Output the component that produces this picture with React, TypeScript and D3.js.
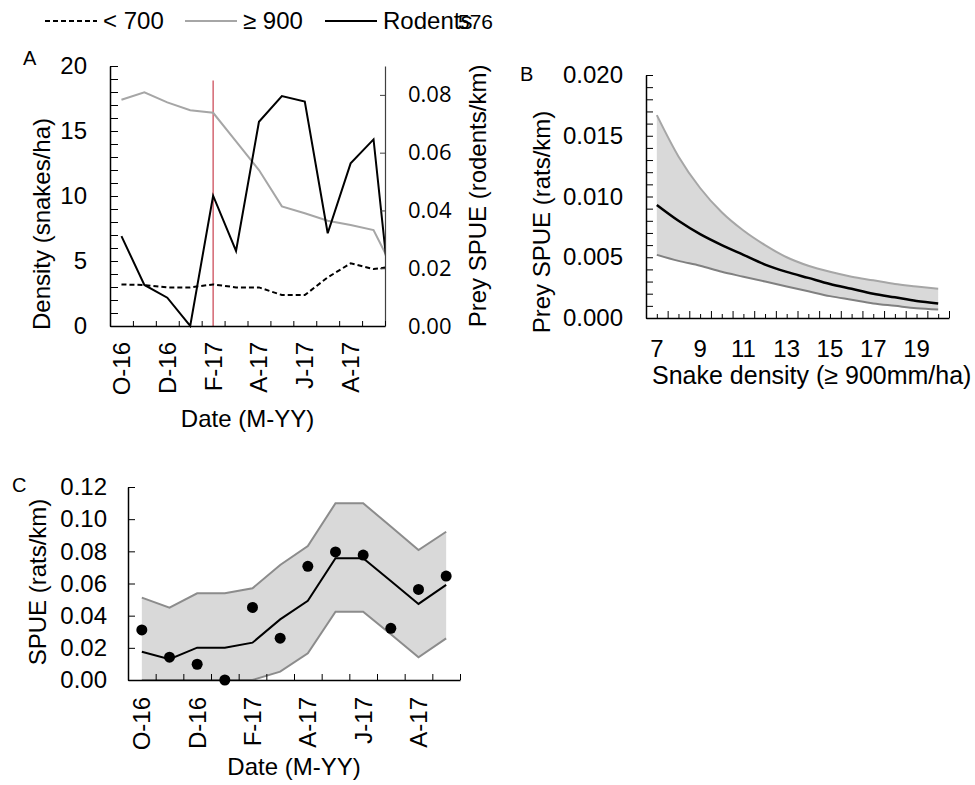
import React, { useEffect, useRef } from "react";
import * as d3 from "d3";

// panel A / C: monthly surveys (13th point runs past the axis end and gets clipped)
const monthLabels = ["O-16", "N-16", "D-16", "J-17", "F-17", "M-17", "A-17", "M-17", "J-17", "J-17", "A-17", "S-17", "O-17"];
const under700 = [3.2, 3.15, 2.97, 2.97, 3.2, 2.97, 2.97, 2.38, 2.38, 3.74, 4.82, 4.38, 4.6];
const over900 = [17.4, 17.97, 17.2, 16.6, 16.4, 14.2, 12.0, 9.2, 8.67, 8.1, 7.77, 7.38, 3.9];
const rodents = [0.0311, 0.0142, 0.0098, 0.0, 0.0451, 0.026, 0.0707, 0.0796, 0.0777, 0.0321, 0.0563, 0.0646, -0.01];
const treatmentMonth = 4; // F-17
const treatmentTop = 0.085;

// panel B: prey SPUE vs snake density
const densityB = [7, 8, 9, 10, 11, 12, 13, 14, 15, 16, 17, 18, 19, 20];
const meanB = [0.0093, 0.008, 0.0069, 0.006, 0.0052, 0.0044, 0.0038, 0.0033, 0.0028, 0.0024, 0.002, 0.0017, 0.0014, 0.0012];
const upperB = [0.0167, 0.0133, 0.0107, 0.0087, 0.0072, 0.006, 0.005, 0.0043, 0.0038, 0.0034, 0.0031, 0.0028, 0.0026, 0.0024];
const lowerB = [0.0052, 0.0047, 0.0043, 0.0038, 0.0034, 0.003, 0.0026, 0.0022, 0.0018, 0.0015, 0.0012, 0.001, 0.0008, 0.0007];
const xLabelsB = [7, 9, 11, 13, 15, 17, 19];

// panel C: model fit for monthly SPUE (dots = rodents series)
const fitC = [0.0176, 0.0129, 0.0201, 0.0201, 0.0232, 0.0377, 0.0493, 0.0757, 0.0757, 0.0615, 0.0473, 0.0591];
const upperC = [0.0512, 0.045, 0.0539, 0.0539, 0.057, 0.0715, 0.0833, 0.1099, 0.1099, 0.0954, 0.0808, 0.0922];
const lowerC = [0, 0, 0, 0, 0, 0.0052, 0.0166, 0.0425, 0.0425, 0.0284, 0.0141, 0.0259];

const FONT = "'Liberation Sans', Arial, sans-serif";

const App = () => {
  const ref = useRef(null);

  useEffect(() => {
    const svg = d3.select(ref.current);
    svg.selectAll("*").remove();

    const styleAxis = (g, color = "#000", width = 1.5) => {
      g.attr("font-family", FONT).attr("font-size", 24);
      g.select(".domain").attr("stroke", color).attr("stroke-width", width);
      g.selectAll(".tick line").attr("stroke", color).attr("stroke-width", 1);
      g.selectAll(".tick text").attr("fill", "#000");
    };

    const text = (x, y, s, size = 24, anchor = "start", rot = false) => {
      const t = svg
        .append("text")
        .attr("font-family", FONT)
        .attr("font-size", size)
        .attr("text-anchor", anchor)
        .text(s);
      if (rot) t.attr("transform", `translate(${x},${y}) rotate(-90)`).attr("dy", "0.35em");
      else t.attr("x", x).attr("y", y);
      return t;
    };

    // legend
    const leg = [
      { label: "< 700", color: "#000", dash: "5,3", x: 45 },
      { label: "\u2265 900", color: "#a6a6a6", dash: null, x: 185 },
      { label: "Rodents", color: "#000", dash: null, x: 325 },
    ];
    leg.forEach((d) => {
      svg
        .append("line")
        .attr("x1", d.x)
        .attr("x2", d.x + 52)
        .attr("y1", 21)
        .attr("y2", 21)
        .attr("stroke", d.color)
        .attr("stroke-width", 2)
        .attr("stroke-dasharray", d.dash);
      text(d.x + 58, 29, d.label);
    });
    text(458, 29, "576", 21);

    // ---------------- panel A ----------------
    const xA = d3.scaleLinear().domain([0, 12]).range([110, 385]);
    const yL = d3.scaleLinear().domain([0, 20]).range([326, 66]);
    const yR = d3.scaleLinear().domain([0, 0.09]).range([326, 66]);

    svg
      .append("clipPath")
      .attr("id", "clipA")
      .append("rect")
      .attr("x", 110)
      .attr("y", 0)
      .attr("width", 275)
      .attr("height", 340);

    const gA = svg.append("g").attr("clip-path", "url(#clipA)");

    gA.append("line")
      .attr("x1", xA(treatmentMonth + 0.5))
      .attr("x2", xA(treatmentMonth + 0.5))
      .attr("y1", yR(0))
      .attr("y2", yR(treatmentTop))
      .attr("stroke", "#c9404e")
      .attr("stroke-width", 1.2);

    const lineL = d3.line().x((d, i) => xA(i + 0.5)).y((d) => yL(d));
    const lineR = d3.line().x((d, i) => xA(i + 0.5)).y((d) => yR(d));

    gA.append("path").attr("d", lineL(over900)).attr("fill", "none").attr("stroke", "#a6a6a6").attr("stroke-width", 2);
    gA.append("path")
      .attr("d", lineL(under700))
      .attr("fill", "none")
      .attr("stroke", "#000")
      .attr("stroke-width", 2)
      .attr("stroke-dasharray", "5,3");
    gA.append("path").attr("d", lineR(rodents)).attr("fill", "none").attr("stroke", "#000").attr("stroke-width", 2);

    svg
      .append("g")
      .attr("transform", "translate(110,0)")
      .call(
        d3
          .axisLeft(yL)
          .tickValues(d3.range(0, 21))
          .tickFormat((d) => (d % 5 === 0 ? d : ""))
          .tickSizeInner(-8)
          .tickSizeOuter(0)
          .tickPadding(23)
      )
      .call((g) => styleAxis(g));

    svg
      .append("g")
      .attr("transform", "translate(385,0)")
      .call(
        d3
          .axisRight(yR)
          .tickValues([0, 0.02, 0.04, 0.06, 0.08])
          .tickFormat(d3.format(".2f"))
          .tickSizeInner(-5)
          .tickSizeOuter(0)
          .tickPadding(23)
      )
      .call((g) => {
        styleAxis(g, "#404040", 1.2);
        g.attr("font-family", "'Open Sans', sans-serif").attr("font-size", 22);
      });

    svg
      .append("g")
      .attr("transform", "translate(0,326)")
      .call(d3.axisBottom(xA).tickValues(d3.range(13)).tickFormat("").tickSizeInner(-5).tickSizeOuter(0))
      .call((g) => styleAxis(g));

    monthLabels.slice(0, 12).forEach((m, i) => {
      if (i % 2 === 0) text(xA(i + 0.5), 342, m, 24, "end", true);
    });

    text(42, 224, "Density (snakes/ha)", 24, "middle", true);
    text(478, 196, "Prey SPUE (rodents/km)", 24, "middle", true);
    text(247.5, 427, "Date (M-YY)", 24, "middle");
    text(23, 65, "A", 20);

    // ---------------- panel B ----------------
    const xB = d3.scaleLinear().domain([6.5, 20.5]).range([646, 949]);
    const yB = d3.scaleLinear().domain([0, 0.02]).range([318, 75]);

    const areaB = d3
      .area()
      .x((d, i) => xB(densityB[i]))
      .y0((d, i) => yB(lowerB[i]))
      .y1((d, i) => yB(upperB[i]))
      .curve(d3.curveMonotoneX);
    const lineB = d3
      .line()
      .x((d, i) => xB(densityB[i]))
      .y((d) => yB(d))
      .curve(d3.curveMonotoneX);

    svg.append("path").attr("d", areaB(densityB)).attr("fill", "#d9d9d9");
    svg.append("path").attr("d", lineB(upperB)).attr("fill", "none").attr("stroke", "#a6a6a6").attr("stroke-width", 2);
    svg.append("path").attr("d", lineB(lowerB)).attr("fill", "none").attr("stroke", "#808080").attr("stroke-width", 2);
    svg.append("path").attr("d", lineB(meanB)).attr("fill", "none").attr("stroke", "#000").attr("stroke-width", 2.5);

    svg
      .append("g")
      .attr("transform", "translate(646,0)")
      .call(
        d3
          .axisLeft(yB)
          .tickValues(d3.range(21).map((i) => i / 1000))
          .tickFormat((d, i) => (i % 5 === 0 ? d3.format(".3f")(d) : ""))
          .tickSizeInner(-7)
          .tickSizeOuter(0)
          .tickPadding(23)
      )
      .call((g) => styleAxis(g));

    svg
      .append("g")
      .attr("transform", "translate(0,318)")
      .call(
        d3
          .axisBottom(xB)
          .tickValues(d3.range(29).map((i) => 6.5 + i * 0.5))
          .tickFormat("")
          .tickSizeInner(-4)
          .tickSizeOuter(0)
      )
      .call((g) => {
        styleAxis(g);
        g.selectAll(".tick line").attr("y2", (d) => (d % 1 === 0 ? -4 : -7));
      });

    xLabelsB.forEach((v) => text(xB(v), 357, String(v), 24, "middle"));
    text(652, 384, "Snake density (\u2265 900mm/ha)", 25, "start");
    text(542, 222, "Prey SPUE (rats/km)", 24, "middle", true);
    text(520, 81, "B", 20);

    // ---------------- panel C ----------------
    const xC = d3.scaleLinear().domain([0, 12]).range([128, 460]);
    const yC = d3.scaleLinear().domain([0, 0.12]).range([680, 487]);

    const areaC = d3
      .area()
      .x((d, i) => xC(i + 0.5))
      .y0((d, i) => yC(lowerC[i]))
      .y1((d) => yC(d));
    const lineC = d3.line().x((d, i) => xC(i + 0.5)).y((d) => yC(d));

    svg.append("path").attr("d", areaC(upperC)).attr("fill", "#d9d9d9");
    svg.append("path").attr("d", lineC(upperC)).attr("fill", "none").attr("stroke", "#8c8c8c").attr("stroke-width", 2);
    svg.append("path").attr("d", lineC(lowerC)).attr("fill", "none").attr("stroke", "#8c8c8c").attr("stroke-width", 2);
    svg.append("path").attr("d", lineC(fitC)).attr("fill", "none").attr("stroke", "#000").attr("stroke-width", 2);

    svg
      .append("g")
      .selectAll("circle")
      .data(rodents.slice(0, 12))
      .join("circle")
      .attr("cx", (d, i) => xC(i + 0.5))
      .attr("cy", (d) => yC(d))
      .attr("r", 5.5)
      .attr("fill", "#000");

    svg
      .append("g")
      .attr("transform", "translate(128,0)")
      .call(
        d3
          .axisLeft(yC)
          .tickValues([0, 0.02, 0.04, 0.06, 0.08, 0.1, 0.12])
          .tickFormat(d3.format(".2f"))
          .tickSizeInner(-7)
          .tickSizeOuter(0)
          .tickPadding(21)
      )
      .call((g) => styleAxis(g));

    svg
      .append("g")
      .attr("transform", "translate(0,680)")
      .call(d3.axisBottom(xC).tickValues(d3.range(13)).tickFormat("").tickSizeInner(-6).tickSizeOuter(0))
      .call((g) => styleAxis(g));

    monthLabels.slice(0, 12).forEach((m, i) => {
      if (i % 2 === 0) text(xC(i + 0.5), 697, m, 24, "end", true);
    });

    text(38, 582, "SPUE (rats/km)", 24, "middle", true);
    text(294, 775, "Date (M-YY)", 24, "middle");
    text(12, 492, "C", 20);
  }, []);

  return (
    <svg
      ref={ref}
      width={975}
      height={785}
      style={{ position: "absolute", left: 0, top: 0, background: "#fff" }}
    ></svg>
  );
};

export default App;
